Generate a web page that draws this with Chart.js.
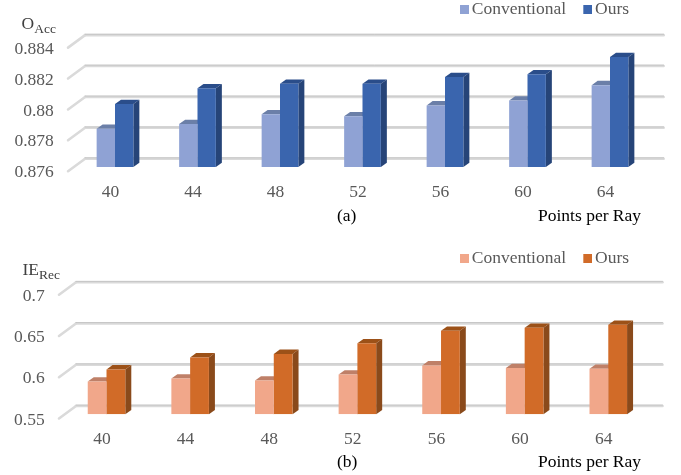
<!DOCTYPE html>
<html>
<head>
<meta charset="utf-8">
<script src="https://cdn.jsdelivr.net/npm/chart.js@4"></script>
<style>
html, body { margin: 0; padding: 0; background: #fff; }
#page { position: relative; width: 681px; height: 475px; overflow: hidden; font-family: "Liberation Serif", serif; }
canvas { position: absolute; left: 0; }
.lab { position: absolute; white-space: nowrap; line-height: 20px; font-size: 17.5px; color: #000; }
.ttl { color: #404040; }
.ttl sub { font-size: 13.5px; vertical-align: baseline; position: relative; top: 4px; line-height: 0; }
</style>
</head>
<body>
<div id="page">
  <canvas id="chartA" width="681" height="235" style="top:0"></canvas>
  <canvas id="chartB" width="681" height="240" style="top:235px"></canvas>
  <div class="lab ttl" style="left:21.5px;top:13px">O<sub>Acc</sub></div>
  <div class="lab ttl" style="left:22.5px;top:259px">IE<sub>Rec</sub></div>
  <div class="lab" style="left:337px;top:205px">(a)</div>
  <div class="lab" style="left:538px;top:205px">Points per Ray</div>
  <div class="lab" style="left:337px;top:451px">(b)</div>
  <div class="lab" style="left:538px;top:451px">Points per Ray</div>
</div>
<script>
var categories = ['40', '44', '48', '52', '56', '60', '64']
var seriesNames = ['Conventional', 'Ours']

var accConventional = [0.87848, 0.87878, 0.87941, 0.87928, 0.87999, 0.8803, 0.8813]
var accOurs = [0.88008, 0.8811, 0.88139, 0.88139, 0.88182, 0.882, 0.88312]
var accTicks = [0.876, 0.878, 0.88, 0.882, 0.884]

var recConventional = [0.5898, 0.5934, 0.591, 0.5983, 0.6093, 0.6061, 0.6053]
var recOurs = [0.6044, 0.619, 0.6232, 0.6361, 0.6512, 0.6549, 0.6585]
var recTicks = [0.55, 0.6, 0.65, 0.7]

var tickColor = '#595959'
var serif = 'Liberation Serif'
var legendPadding = 19.25
var legendHeight = 47.5

// legend swatch as a small canvas, blank on the left, so the text sits close to it
function swatch(color) {
    var c = document.createElement('canvas')
    c.width = 13
    c.height = 9
    var g = c.getContext('2d')
    g.fillStyle = color
    g.fillRect(4, 0, 9, 9)
    return c
}

// the 3d look: back wall lines and the side/top faces of each bar
function shapePlugin(cfg) {
    return {
        id: 'shape3d',
        afterLayout: function (chart) {
            // legend sits outside the plot, put it where the picture has it
            var lg = chart.legend
            lg.left = cfg.legendX - legendPadding
            lg.top = cfg.legendY - legendPadding
            lg.right = chart.width
            lg.bottom = chart.height
            lg.width = lg.right - lg.left
            lg.height = lg.bottom - lg.top
        },
        beforeDatasetsDraw: function (chart) {
            var ctx = chart.ctx
            var area = chart.chartArea
            var y = chart.scales.y
            var backL = area.left + 11.3
            var backR = area.right + 12.4
            ctx.save()
            y.ticks.forEach(function (t) {
                var py = y.getPixelForValue(t.value)
                ctx.lineWidth = 2.6
                ctx.lineCap = 'round'
                ctx.strokeStyle = '#dadada'
                ctx.beginPath()
                ctx.moveTo(area.left - 5.7, py + 4.2)
                ctx.lineTo(backL, py - 8.3)
                ctx.stroke()
                ctx.beginPath()
                ctx.moveTo(backL, py - 8.3)
                ctx.lineTo(backR, py - 8.3)
                ctx.stroke()
                ctx.lineWidth = 1
                ctx.strokeStyle = '#c4c4c4'
                ctx.beginPath()
                ctx.moveTo(backL, py - 9.2)
                ctx.lineTo(backR, py - 9.2)
                ctx.stroke()
            })
            chart.data.datasets.forEach(function (ds, i) {
                chart.getDatasetMeta(i).data.forEach(function (bar) {
                    var p = bar.getProps(['x', 'y', 'base', 'width'], true)
                    var x0 = p.x - p.width / 2
                    var x1 = p.x + p.width / 2
                    var dx = 6, dy = 4.3
                    ctx.fillStyle = cfg.tops[i]
                    ctx.beginPath()
                    ctx.moveTo(x0, p.y)
                    ctx.lineTo(x0 + dx, p.y - dy)
                    ctx.lineTo(x1 + dx, p.y - dy)
                    ctx.lineTo(x1, p.y)
                    ctx.fill()
                    ctx.fillStyle = cfg.sides[i]
                    ctx.beginPath()
                    ctx.moveTo(x1, p.y)
                    ctx.lineTo(x1 + dx, p.y - dy)
                    ctx.lineTo(x1 + dx, p.base - dy)
                    ctx.lineTo(x1, p.base)
                    ctx.fill()
                })
            })
            ctx.restore()
        }
    }
}

function makeChart(id, conventional, ours, ticks, cfg) {
    var ctx = document.getElementById(id).getContext('2d')
    return new Chart(ctx, {
        type: 'bar',
        data: {
            labels: categories,
            datasets: [
                { label: seriesNames[0], data: conventional, base: ticks[0], backgroundColor: cfg.fronts[0] },
                { label: seriesNames[1], data: ours, base: ticks[0], backgroundColor: cfg.fronts[1] }
            ]
        },
        options: {
            responsive: false,
            animation: false,
            events: [],
            layout: { padding: { top: cfg.top - legendHeight, right: cfg.right, left: 0, bottom: 0 } },
            datasets: { bar: { categoryPercentage: cfg.group, barPercentage: 1 } },
            plugins: {
                title: { display: false },
                tooltip: { enabled: false },
                legend: {
                    position: 'top',
                    align: 'start',
                    labels: {
                        usePointStyle: true,
                        pointStyleWidth: 1,
                        boxHeight: 9,
                        padding: legendPadding,
                        color: tickColor,
                        font: { family: serif, size: 17.5 },
                        generateLabels: function (chart) {
                            var items = Chart.defaults.plugins.legend.labels.generateLabels(chart)
                            items.forEach(function (item, i) { item.pointStyle = swatch(cfg.fronts[i]) })
                            return items
                        }
                    }
                }
            },
            scales: {
                x: {
                    grid: { display: false, drawTicks: false },
                    border: { display: false },
                    afterFit: function (s) { s.height = cfg.xHeight },
                    ticks: {
                        color: tickColor,
                        padding: 15,
                        maxRotation: 0,
                        labelOffset: -4.6,
                        font: { family: serif, size: 17.5 }
                    }
                },
                y: {
                    min: ticks[0],
                    max: ticks[ticks.length - 1],
                    grid: { display: false, drawTicks: false },
                    border: { display: false },
                    afterFit: function (s) { s.width = cfg.yWidth },
                    afterBuildTicks: function (s) {
                        s.ticks = ticks.map(function (v) { return { value: v } })
                    },
                    ticks: {
                        color: tickColor,
                        padding: 20,
                        labelOffset: 5.7,
                        font: { family: serif, size: 17.5 },
                        callback: function (v) { return String(v) }
                    }
                }
            }
        },
        plugins: [shapePlugin(cfg)]
    })
}

var chartA = makeChart('chartA', accConventional, accOurs, accTicks, {
    fronts: ['#8fa2d4', '#3a65ae'],
    tops: ['#6b7fa8', '#2a4d8a'],
    sides: ['#6b7fa8', '#264478'],
    top: 44.2, right: 29.75, xHeight: 68, yWidth: 73.75, group: 0.445,
    legendX: 462, legendY: 0.25
})

var chartB = makeChart('chartB', recConventional, recOurs, recTicks, {
    fronts: ['#f1a78a', '#d16b28'],
    tops: ['#bf8068', '#9c5118'],
    sides: ['#bf8068', '#8a4a1b'],
    top: 56.3, right: 30.9, xHeight: 60.7, yWidth: 64.7, group: 0.449,
    legendX: 462, legendY: 15
})
</script>
</body>
</html>
